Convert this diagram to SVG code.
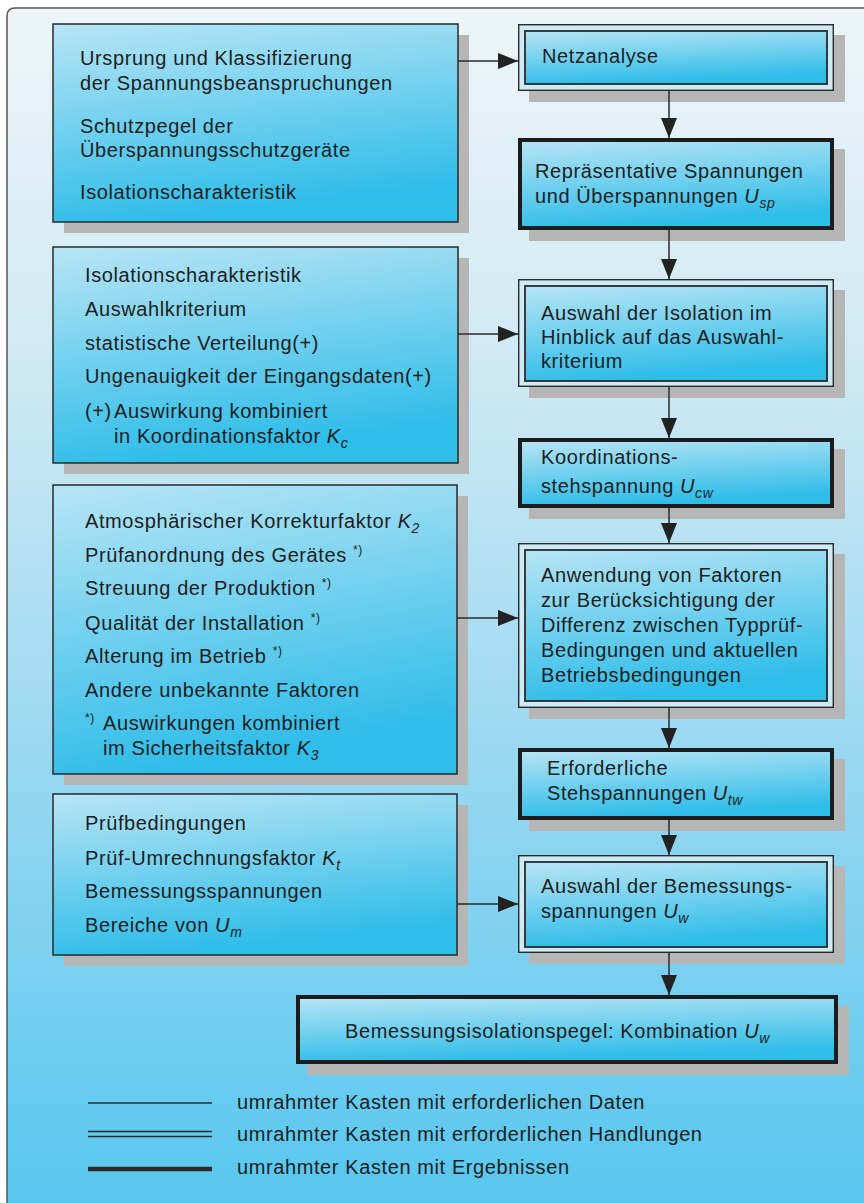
<svg xmlns="http://www.w3.org/2000/svg" width="864" height="1203" viewBox="0 0 864 1203">
<style>
text{font-family:"Liberation Sans",Arial,Helvetica,sans-serif;font-size:20px;letter-spacing:0.6px;fill:#1e1e1e}
.it{font-style:italic}
.sub{font-style:italic;font-size:14px}
.sup{font-size:12px}
.shadow{fill:#b6b6b6}
.box{fill:url(#boxg);stroke:#2a2a2a;stroke-width:1.5}
.dbl-out{fill:#cdeaf5;stroke:#2a2a2a;stroke-width:1.4}
.dbl-in{fill:url(#boxg);stroke:#2a2a2a;stroke-width:1.8}
.thick{fill:url(#boxg);stroke:#1c1c1c;stroke-width:4}
.con{stroke:#2a2a2a;stroke-width:1.5;fill:none;marker-end:url(#ah)}
.leg{stroke:#2a2a2a;fill:none}
</style>
<defs>
<linearGradient id="bg" x1="0" y1="0" x2="0" y2="1">
<stop offset="0" stop-color="#edf5f8"/>
<stop offset="0.3" stop-color="#cfe9f3"/>
<stop offset="0.65" stop-color="#95d7f1"/>
<stop offset="1" stop-color="#58c7ef"/>
</linearGradient>
<linearGradient id="boxg" x1="0" y1="0" x2="0.25" y2="1">
<stop offset="0" stop-color="#b8e5f5"/>
<stop offset="1" stop-color="#2fbde9"/>
</linearGradient>
<marker id="ah" markerUnits="userSpaceOnUse" markerWidth="20" markerHeight="16" refX="20" refY="8" orient="auto">
<path d="M0,0 L20,8 L0,16 Z" fill="#222"/>
</marker>
</defs>
<rect x="0" y="0" width="864" height="1203" fill="#ffffff"/>
<path d="M7,1203 V16 Q7,8 15,8 H864 V1203 Z" fill="url(#bg)"/>
<path d="M7,1203 V16 Q7,8 15,8 H864" fill="none" stroke="#555" stroke-width="1.5"/>

<g id="n-ursprung">
<rect class="shadow" x="64" y="35" width="405" height="198"/>
<rect class="box" x="53" y="24" width="405" height="198"/>
<text x="80" y="65">Ursprung und Klassifizierung</text>
<text x="80" y="90">der Spannungsbeanspruchungen</text>
<text x="80" y="133">Schutzpegel der</text>
<text x="80" y="157">Überspannungsschutzgeräte</text>
<text x="80" y="199">Isolationscharakteristik</text>
</g>

<g id="n-isolation-daten">
<rect class="shadow" x="64" y="258" width="405" height="216"/>
<rect class="box" x="53" y="247" width="405" height="216"/>
<text x="85" y="282">Isolationscharakteristik</text>
<text x="85" y="316">Auswahlkriterium</text>
<text x="85" y="350">statistische Verteilung(+)</text>
<text x="85" y="383">Ungenauigkeit der Eingangsdaten(+)</text>
<text x="85" y="418">(+)</text>
<text x="114" y="418">Auswirkung kombiniert</text>
<text x="114" y="443">in Koordinationsfaktor <tspan class="it">K</tspan><tspan class="sub" dy="5">c</tspan></text>
</g>

<g id="n-faktoren-daten">
<rect class="shadow" x="64" y="496" width="404" height="289"/>
<rect class="box" x="53" y="485" width="404" height="289"/>
<text x="85" y="528">Atmosphärischer Korrekturfaktor <tspan class="it">K</tspan><tspan class="sub" dy="5">2</tspan></text>
<text x="85" y="562">Prüfanordnung des Gerätes <tspan class="sup" dy="-8">*)</tspan></text>
<text x="85" y="595">Streuung der Produktion <tspan class="sup" dy="-8">*)</tspan></text>
<text x="85" y="630">Qualität der Installation <tspan class="sup" dy="-8">*)</tspan></text>
<text x="85" y="663">Alterung im Betrieb <tspan class="sup" dy="-8">*)</tspan></text>
<text x="85" y="697">Andere unbekannte Faktoren</text>
<text x="85" y="722" class="sup">*)</text>
<text x="103" y="730">Auswirkungen kombiniert</text>
<text x="103" y="755">im Sicherheitsfaktor <tspan class="it">K</tspan><tspan class="sub" dy="5">3</tspan></text>
</g>

<g id="n-pruef-daten">
<rect class="shadow" x="64" y="805" width="404" height="161"/>
<rect class="box" x="53" y="794" width="404" height="161"/>
<text x="85" y="830">Prüfbedingungen</text>
<text x="85" y="865">Prüf-Umrechnungsfaktor <tspan class="it">K</tspan><tspan class="sub" dy="5">t</tspan></text>
<text x="85" y="898">Bemessungsspannungen</text>
<text x="85" y="932">Bereiche von <tspan class="it">U</tspan><tspan class="sub" dy="5">m</tspan></text>
</g>

<g id="n-netzanalyse">
<rect class="shadow" x="529" y="35" width="316" height="67"/>
<rect class="dbl-out" x="518.7" y="24.7" width="314.6" height="65.6"/>
<rect class="dbl-in" x="525" y="31" width="302" height="53"/>
<text x="542" y="63">Netzanalyse</text>
</g>

<g id="n-repraesentativ">
<rect class="shadow" x="529" y="149" width="316" height="92"/>
<rect class="thick" x="520" y="140" width="312" height="88"/>
<text x="535" y="178">Repräsentative Spannungen</text>
<text x="535" y="203">und Überspannungen <tspan class="it">U</tspan><tspan class="sub" dy="5">sp</tspan></text>
</g>

<g id="n-auswahl-isolation">
<rect class="shadow" x="529" y="290" width="316" height="108"/>
<rect class="dbl-out" x="518.7" y="279.7" width="314.6" height="106.6"/>
<rect class="dbl-in" x="525" y="286" width="302" height="95"/>
<text x="541" y="320">Auswahl der Isolation im</text>
<text x="541" y="344">Hinblick auf das Auswahl-</text>
<text x="541" y="368">kriterium</text>
</g>

<g id="n-koordination">
<rect class="shadow" x="529" y="449" width="316" height="70"/>
<rect class="thick" x="520" y="440" width="312" height="66"/>
<text x="541" y="464">Koordinations-</text>
<text x="541" y="493">stehspannung <tspan class="it">U</tspan><tspan class="sub" dy="5">cw</tspan></text>
</g>

<g id="n-anwendung">
<rect class="shadow" x="529" y="554" width="316" height="165"/>
<rect class="dbl-out" x="518.7" y="543.7" width="314.6" height="163.6"/>
<rect class="dbl-in" x="525" y="550" width="302" height="151"/>
<text x="541" y="582">Anwendung von Faktoren</text>
<text x="541" y="607">zur Berücksichtigung der</text>
<text x="541" y="632">Differenz zwischen Typprüf-</text>
<text x="541" y="657">Bedingungen und aktuellen</text>
<text x="541" y="682">Betriebsbedingungen</text>
</g>

<g id="n-erforderlich">
<rect class="shadow" x="529" y="759" width="316" height="72"/>
<rect class="thick" x="520" y="750" width="312" height="68"/>
<text x="547" y="775">Erforderliche</text>
<text x="547" y="800">Stehspannungen <tspan class="it">U</tspan><tspan class="sub" dy="5">tw</tspan></text>
</g>

<g id="n-auswahl-bemessung">
<rect class="shadow" x="529" y="866" width="316" height="98"/>
<rect class="dbl-out" x="518.7" y="855.7" width="314.6" height="96.6"/>
<rect class="dbl-in" x="525" y="862" width="302" height="85"/>
<text x="541" y="893">Auswahl der Bemessungs-</text>
<text x="541" y="918">spannungen <tspan class="it">U</tspan><tspan class="sub" dy="5">w</tspan></text>
</g>

<g id="n-bemessungsisolationspegel">
<rect class="shadow" x="307" y="1006" width="542" height="69"/>
<rect class="thick" x="298" y="997" width="538" height="65"/>
<text x="345" y="1038">Bemessungsisolationspegel: Kombination <tspan class="it">U</tspan><tspan class="sub" dy="5">w</tspan></text>
</g>

<g id="connectors">
<line class="con" x1="458" y1="61" x2="518" y2="61"/>
<line class="con" x1="458" y1="334" x2="518" y2="334"/>
<line class="con" x1="457" y1="618" x2="518" y2="618"/>
<line class="con" x1="457" y1="904" x2="518" y2="904"/>
<line class="con" x1="669" y1="91" x2="669" y2="138"/>
<line class="con" x1="669" y1="230" x2="669" y2="279"/>
<line class="con" x1="669" y1="387" x2="669" y2="438"/>
<line class="con" x1="669" y1="508" x2="669" y2="543"/>
<line class="con" x1="669" y1="708" x2="669" y2="748"/>
<line class="con" x1="669" y1="820" x2="669" y2="855"/>
<line class="con" x1="669" y1="953" x2="669" y2="995"/>
</g>

<g id="legend">
<line class="leg" x1="88" y1="1103" x2="212" y2="1103" stroke-width="1.5"/>
<line class="leg" x1="88" y1="1131.5" x2="212" y2="1131.5" stroke-width="1.3"/>
<line class="leg" x1="88" y1="1136.5" x2="212" y2="1136.5" stroke-width="1.3"/>
<line class="leg" x1="88" y1="1169" x2="212" y2="1169" stroke-width="4.5"/>
<text x="237" y="1109">umrahmter Kasten mit erforderlichen Daten</text>
<text x="237" y="1141">umrahmter Kasten mit erforderlichen Handlungen</text>
<text x="237" y="1174">umrahmter Kasten mit Ergebnissen</text>
</g>
</svg>
